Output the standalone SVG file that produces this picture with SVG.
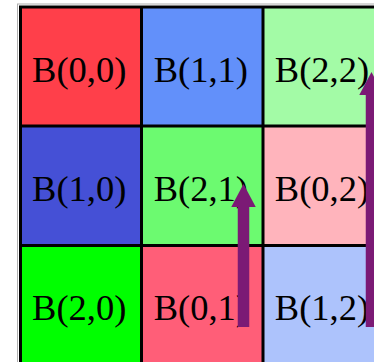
<svg xmlns="http://www.w3.org/2000/svg" width="374" height="362" viewBox="0 0 374 362">
<defs>
<style>
.lbl{font-family:"Liberation Serif","Times New Roman",serif;font-size:36.5px;fill:#000;text-anchor:middle}
.grid{stroke:#000;stroke-width:3;fill:none}
.arr{stroke:#7b1a75;stroke-width:11.5;fill:none}
</style>
<marker id="ah" markerUnits="userSpaceOnUse" markerWidth="24" markerHeight="25" refX="0" refY="12.25" orient="auto">
<path d="M0,0 L23,12.25 L0,24.5 z" fill="#7b1a75"/>
</marker>
</defs>
<rect width="374" height="362" fill="#fff"/>
<rect x="17.5" y="4" width="370" height="370" fill="none" stroke="#b0b0b0" stroke-width="1"/>
<g id="B00"><rect x="20" y="7" width="121.5" height="119" fill="#ff3f4a"/><text class="lbl" x="79.2" y="81.5">B(0,0)</text></g>
<g id="B11"><rect x="141.5" y="7" width="121.5" height="119" fill="#6290fa"/><text class="lbl" x="200.8" y="81.5">B(1,1)</text></g>
<g id="B22"><rect x="263" y="7" width="121.5" height="119" fill="#a3fba6"/><text class="lbl" x="322" y="81.5">B(2,2)</text></g>
<g id="B10"><rect x="20" y="126" width="121.5" height="119.5" fill="#4550d6"/><text class="lbl" x="79.2" y="201">B(1,0)</text></g>
<g id="B21"><rect x="141.5" y="126" width="121.5" height="119.5" fill="#6cfa70"/><text class="lbl" x="200.8" y="201">B(2,1)</text></g>
<g id="B02"><rect x="263" y="126" width="121.5" height="119.5" fill="#ffb4bc"/><text class="lbl" x="322" y="201">B(0,2)</text></g>
<g id="B20"><rect x="20" y="245.5" width="121.5" height="120" fill="#00ff00"/><text class="lbl" x="79.2" y="320">B(2,0)</text></g>
<g id="B01"><rect x="141.5" y="245.5" width="121.5" height="120" fill="#ff5e78"/><text class="lbl" x="200.8" y="320">B(0,1)</text></g>
<g id="B12"><rect x="263" y="245.5" width="121.5" height="120" fill="#adc3fc"/><text class="lbl" x="322" y="320">B(1,2)</text></g>
<g id="grid">
<path class="grid" d="M20.5,5.5 V370 M141.5,5.5 V370 M263,5.5 V370 M19,7 H380 M19,126 H380 M19,245.5 H380"/>
</g>
<g id="connectors">
<line class="arr" x1="243.5" y1="327" x2="243.5" y2="207" marker-end="url(#ah)"/>
<line class="arr" x1="371.5" y1="327" x2="371.5" y2="95" marker-end="url(#ah)"/>
</g>
</svg>
